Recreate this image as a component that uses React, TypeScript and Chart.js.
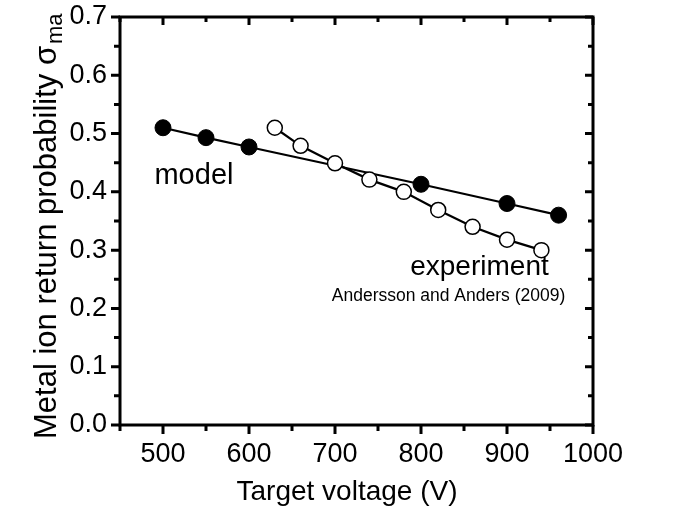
import React, { useEffect, useRef } from "react";
import { Chart, registerables } from "chart.js";

Chart.register(...registerables);

const modelX = [500, 550, 600, 800, 900, 960];
const modelY = [0.51, 0.493, 0.477, 0.413, 0.38, 0.36];
const expX = [630, 660, 700, 740, 780, 820, 860, 900, 940];
const expY = [0.51, 0.479, 0.449, 0.421, 0.4, 0.369, 0.34, 0.318, 0.3];
const xTicks = [500, 600, 700, 800, 900, 1000];
const xMinor = [450, 550, 650, 750, 850, 950];
const yTicks = [0, 0.1, 0.2, 0.3, 0.4, 0.5, 0.6, 0.7];
const yMinor = [0.05, 0.15, 0.25, 0.35, 0.45, 0.55, 0.65];

const FONT = "'Liberation Sans', Arial, sans-serif";

const framePlugin = {
  id: "frame",
  afterDraw(chart: any) {
    const ctx = chart.ctx as CanvasRenderingContext2D;
    const { left, right, top, bottom } = chart.chartArea;
    const xs = chart.scales.x;
    const ys = chart.scales.y;
    ctx.save();
    ctx.strokeStyle = "#000";
    ctx.lineWidth = 3;
    ctx.lineCap = "butt";
    const major = 9;
    const minor = 6;
    const drawX = (v: number, len: number) => {
      const px = xs.getPixelForValue(v);
      ctx.beginPath();
      ctx.moveTo(px, bottom);
      ctx.lineTo(px, bottom + len);
      ctx.moveTo(px, top);
      ctx.lineTo(px, top + len - 1);
      ctx.stroke();
    };
    const drawY = (v: number, len: number) => {
      const py = ys.getPixelForValue(v);
      ctx.beginPath();
      ctx.moveTo(left, py);
      ctx.lineTo(left - len, py);
      ctx.moveTo(right, py);
      ctx.lineTo(right - len + 1, py);
      ctx.stroke();
    };
    xTicks.forEach((v) => drawX(v, major));
    xMinor.forEach((v) => drawX(v, minor));
    yTicks.forEach((v) => drawY(v, major));
    yMinor.forEach((v) => drawY(v, minor));
    ctx.strokeRect(left, top, right - left, bottom - top);

    // annotations
    ctx.fillStyle = "#000";
    ctx.textAlign = "center";
    ctx.textBaseline = "middle";
    ctx.font = `29px ${FONT}`;
    ctx.fillText("model", xs.getPixelForValue(536), ys.getPixelForValue(0.427));
    ctx.font = `28px ${FONT}`;
    ctx.fillText("experiment", xs.getPixelForValue(868), ys.getPixelForValue(0.271));
    ctx.font = `17.5px ${FONT}`;
    ctx.fillText("Andersson and Anders (2009)", xs.getPixelForValue(832), ys.getPixelForValue(0.221));

    // x title
    ctx.font = `28px ${FONT}`;
    ctx.fillText("Target voltage (V)", 347, 492);

    // y title with subscript
    const main = "Metal ion return probability σ";
    const sub = "ma";
    const mainSize = 31;
    const subSize = 22;
    ctx.font = `${mainSize}px ${FONT}`;
    const wMain = ctx.measureText(main).width;
    ctx.translate(56, 439);
    ctx.rotate(-Math.PI / 2);
    ctx.textAlign = "left";
    ctx.textBaseline = "alphabetic";
    ctx.fillText(main, 0, 0);
    ctx.font = `${subSize}px ${FONT}`;
    ctx.fillText(sub, wMain + 2, 6);
    ctx.restore();
  },
};

export default function App() {
  const ref = useRef<HTMLCanvasElement>(null);
  useEffect(() => {
    const chart = new Chart(ref.current!, {
      type: "scatter",
      data: {
        datasets: [
          {
            label: "experiment",
            data: expX.map((x, i) => ({ x, y: expY[i] })),
            showLine: true,
            borderColor: "#000",
            borderWidth: 2.2,
            pointBackgroundColor: "#fff",
            pointBorderColor: "#000",
            pointBorderWidth: 1.5,
            pointRadius: 7.5,
            order: 0,
          },
          {
            label: "model",
            data: modelX.map((x, i) => ({ x, y: modelY[i] })),
            showLine: true,
            borderColor: "#000",
            borderWidth: 2.2,
            pointBackgroundColor: "#000",
            pointBorderColor: "#000",
            pointBorderWidth: 1,
            pointRadius: 8,
            order: 1,
          },
        ],
      },
      options: {
        animation: false,
        responsive: false,
        layout: { padding: { left: 0, top: 17, right: 85, bottom: 0 } },
        plugins: { legend: { display: false }, tooltip: { enabled: false } },
        scales: {
          x: {
            type: "linear",
            min: 450,
            max: 1000,
            afterBuildTicks: (s: any) => {
              s.ticks = xTicks.map((v) => ({ value: v }));
            },
            afterFit: (s: any) => {
              s.height = 92;
              s.paddingLeft = 0;
              s.paddingRight = 0;
            },
            grid: { display: false, drawTicks: false },
            border: { display: false },
            ticks: {
              color: "#000",
              font: { family: FONT, size: 27 },
              padding: 13,
              maxRotation: 0,
              autoSkip: false,
              callback: (v: any) => String(v),
            },
          },
          y: {
            type: "linear",
            min: 0,
            max: 0.7,
            afterBuildTicks: (s: any) => {
              s.ticks = yTicks.map((v) => ({ value: v }));
            },
            afterFit: (s: any) => {
              s.width = 120;
              s.paddingTop = 0;
              s.paddingBottom = 0;
            },
            grid: { display: false, drawTicks: false },
            border: { display: false },
            ticks: {
              color: "#000",
              font: { family: FONT, size: 27 },
              padding: 13,
              callback: (v: any) => Number(v).toFixed(1),
            },
          },
        },
      },
      plugins: [framePlugin],
    });
    return () => chart.destroy();
  }, []);
  return (
    <div style={{ position: "fixed", left: 0, top: 0, width: 678, height: 517, background: "#fff" }}>
      <canvas ref={ref} width={678} height={517} />
    </div>
  );
}
